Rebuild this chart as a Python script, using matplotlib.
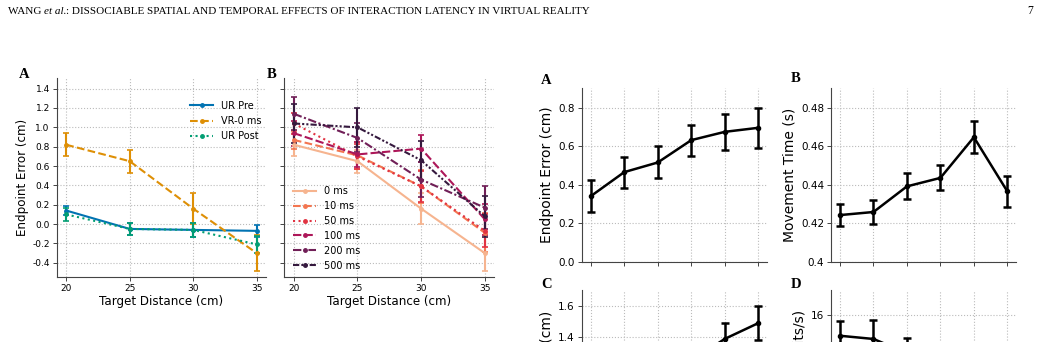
import matplotlib
matplotlib.use('Agg')
import matplotlib.pyplot as plt
from matplotlib.ticker import FormatStrFormatter

# data ------------------------------------------------------------
distances = [20, 25, 30, 35]

# panel A (left): unrestricted reaching vs VR with 0 ms latency
cond_labels = ['UR Pre', 'VR-0 ms', 'UR Post']
ur_pre = [0.14, -0.05, -0.06, -0.07]
ur_pre_err = [0.05, 0.06, 0.07, 0.06]
vr_0 = [0.82, 0.65, 0.16, -0.30]
vr_0_err = [0.12, 0.12, 0.16, 0.19]
ur_post = [0.10, -0.05, -0.06, -0.21]
ur_post_err = [0.07, 0.06, 0.07, 0.09]

# panel B (left): latency conditions
latency_labels = ['0 ms', '10 ms', '50 ms', '100 ms', '200 ms', '500 ms']
lat_means = [
    [0.82, 0.65, 0.16, -0.30],
    [0.87, 0.71, 0.39, -0.09],
    [1.04, 0.70, 0.39, -0.07],
    [0.94, 0.72, 0.78, 0.05],
    [1.14, 0.89, 0.46, 0.17],
    [1.04, 1.00, 0.66, 0.08],
]
lat_errs = [
    [0.12, 0.12, 0.16, 0.19],
    [0.09, 0.14, 0.17, 0.20],
    [0.11, 0.13, 0.16, 0.17],
    [0.13, 0.13, 0.14, 0.16],
    [0.17, 0.15, 0.18, 0.22],
    [0.20, 0.20, 0.20, 0.21],
]

# right-hand figure: per latency condition
latencies = [0, 10, 50, 100, 200, 500]
endpoint_err = [0.340, 0.465, 0.515, 0.631, 0.674, 0.695]
endpoint_err_sd = [0.083, 0.080, 0.083, 0.081, 0.095, 0.104]
move_time = [0.4242, 0.4258, 0.4391, 0.4435, 0.4646, 0.4365]
move_time_sd = [0.0058, 0.0061, 0.0067, 0.0065, 0.0083, 0.0080]
variability = [1.05, 1.10, 1.16, 1.25, 1.39, 1.49]
variability_sd = [0.10, 0.10, 0.10, 0.10, 0.10, 0.11]
throughput = [15.48, 15.40, 15.05, 14.6, 14.1, 13.6]
throughput_sd = [0.36, 0.48, 0.38, 0.35, 0.35, 0.35]

# style -----------------------------------------------------------
plt.rcParams['font.family'] = 'DejaVu Sans'
W, H = 1041, 342
fig = plt.figure(figsize=(W / 100, H / 100), dpi=100)

def box(l, t, r, b):
    # pixel box -> figure fraction
    return [l / W, 1 - b / H, (r - l) / W, (b - t) / H]

def style(ax, fs):
    for s in ['top', 'right']:
        ax.spines[s].set_visible(False)
    for s in ['left', 'bottom']:
        ax.spines[s].set_color('#444444')
        ax.spines[s].set_linewidth(0.8)
    ax.grid(True, linestyle=':', color='#bbbbbb', linewidth=0.8)
    ax.set_axisbelow(True)
    ax.tick_params(labelsize=fs, length=3, width=0.7, color='#444444', pad=2)

def panel_letter(x, y, s):
    fig.text(x / W, 1 - y / H, s, family='Liberation Serif', weight='bold',
             fontsize=10.5, ha='left', va='center')

left_ylim = (-0.55, 1.51)
left_yticks = [-0.4, -0.2, 0.0, 0.2, 0.4, 0.6, 0.8, 1.0, 1.2, 1.4]
eb_kw = dict(marker='o', ms=2.5, lw=1.5, capsize=2.5, capthick=1.2)

# left A
axA = fig.add_axes(box(56.7, 78, 266.2, 277.3))
style(axA, 6.5)
handles = []
for m, e, c, s in [(ur_pre, ur_pre_err, '#0173b2', '-'),
                   (vr_0, vr_0_err, '#de8f05', '--'),
                   (ur_post, ur_post_err, '#029e73', ':')]:
    eb = axA.errorbar(distances, m, yerr=e, color=c, ls=s, **eb_kw)
    handles.append(eb[0])
axA.set_ylim(left_ylim)
axA.set_yticks(left_yticks)
axA.set_yticklabels(['%.1f' % v for v in left_yticks])
axA.set_xticks(distances)
axA.set_xlabel('Target Distance (cm)', fontsize=8.6, labelpad=1)
axA.set_ylabel('Endpoint Error (cm)', fontsize=8.6, labelpad=2)
axA.legend(handles, cond_labels, loc='upper right',
           bbox_to_anchor=(1.02, 0.93), frameon=False,
           fontsize=7, handlelength=2.4, labelspacing=0.55)

# left B
colors = ['#f6b48f', '#f37651', '#e13342', '#ad1759', '#701f57', '#35193e']
styles = ['-', '--', ':', (0, (4, 1.5)), (0, (4, 1.2, 1, 1.2)),
          (0, (3, 1, 1, 1, 1, 1))]
axB = fig.add_axes(box(284.3, 78, 494.3, 277.3))
style(axB, 6.5)
handles = []
for m, e, c, s in zip(lat_means, lat_errs, colors, styles):
    eb = axB.errorbar(distances, m, yerr=e, color=c, ls=s, **eb_kw)
    handles.append(eb[0])
axB.set_ylim(left_ylim)
axB.set_yticks(left_yticks)
axB.set_yticklabels([])
axB.set_xticks(distances)
axB.set_xlabel('Target Distance (cm)', fontsize=8.6, labelpad=1)
axB.legend(handles, latency_labels, loc='lower left',
           bbox_to_anchor=(0.0, -0.01), frameon=False,
           fontsize=7, handlelength=2.4, labelspacing=0.5)

panel_letter(19, 74, 'A')
panel_letter(267, 74, 'B')

# right-hand 2x2
xpos = list(range(len(latencies)))

def right_panel(rect, y, sd, ylim, yticks, ylabel, fmt):
    ax = fig.add_axes(rect)
    style(ax, 7.5)
    ax.errorbar(xpos, y, yerr=sd, color='black', marker='o', ms=3, lw=1.8,
                capsize=3, capthick=1.8, elinewidth=1.8)
    ax.set_ylim(ylim)
    ax.set_yticks(yticks)
    ax.yaxis.set_major_formatter(FormatStrFormatter(fmt))
    ax.set_xticks(xpos)
    ax.set_xticklabels([])
    ax.set_xlim(-0.27, 5.25)
    ax.set_ylabel(ylabel, fontsize=10, labelpad=3)
    return ax

right_panel(box(581.7, 88.3, 766.7, 261.7), endpoint_err, endpoint_err_sd,
            (0, 0.9), [0.0, 0.2, 0.4, 0.6, 0.8], 'Endpoint Error (cm)', '%.1f')
right_panel(box(831, 88.3, 1015.7, 261.7), move_time, move_time_sd,
            (0.4, 0.49), [0.40, 0.42, 0.44, 0.46, 0.48], 'Movement Time (s)', '%g')
right_panel(box(581.7, 290, 766.7, 463.4), variability, variability_sd,
            (0.6, 1.7), [0.6, 0.8, 1.0, 1.2, 1.4, 1.6], 'Variable Error (cm)', '%.1f')
right_panel(box(831, 290, 1015.7, 463.4), throughput, throughput_sd,
            (12.3, 16.62), [13, 14, 15, 16], 'Throughput (bits/s)', '%d')

panel_letter(541, 80, 'A')
panel_letter(791, 79, 'B')
panel_letter(541, 284, 'C')
panel_letter(791, 284, 'D')

# page header
fig.canvas.draw()
renderer = fig.canvas.get_renderer()
hx, hy = 8 / W, 1 - 11 / H
pieces = [('WANG ', 'normal'), ('et al.', 'italic'),
          (': DISSOCIABLE SPATIAL AND TEMPORAL EFFECTS OF INTERACTION LATENCY IN VIRTUAL REALITY', 'normal')]
for txt, st in pieces:
    t = fig.text(hx, hy, txt, family='Liberation Serif', style=st, fontsize=8.0,
                 ha='left', va='center')
    bb = t.get_window_extent(renderer)
    hx = bb.x1 / W
fig.text(1033 / W, 1 - 11 / H, '7', family='Liberation Serif', fontsize=8.5,
         ha='right', va='center')

fig.savefig('out.png', dpi=100)
